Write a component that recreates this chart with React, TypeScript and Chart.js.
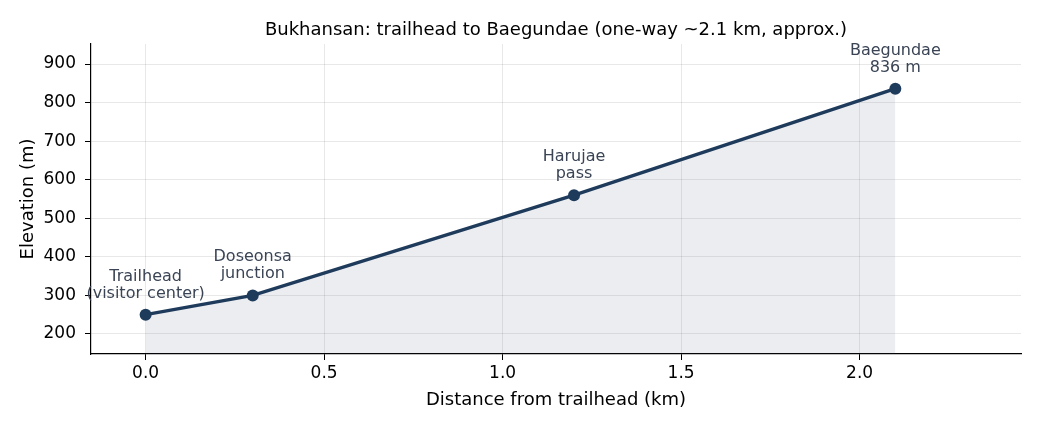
import React, { useEffect, useRef } from "react";
import { Chart, registerables } from "chart.js";

Chart.register(...registerables);

const distances = [0, 0.3, 1.2, 2.1];
const elevations = [250, 300, 560, 836];
const pointLabels = [
  ["Trailhead", "(visitor center)"],
  ["Doseonsa", "junction"],
  ["Harujae", "pass"],
  ["Baegundae", "836 m"],
];
const xTicks = [0, 0.5, 1.0, 1.5, 2.0];
const yTicks = [200, 300, 400, 500, 600, 700, 800, 900];
const titleText = "Bukhansan: trailhead to Baegundae (one-way ~2.1 km, approx.)";
const xTitle = "Distance from trailhead (km)";
const yTitle = "Elevation (m)";

const FONT = "'DejaVu Sans', sans-serif";
const LINE = "#1f3b5c";

const overlayPlugin = {
  id: "overlay",
  afterDatasetsDraw(chart: any) {
    const ctx = chart.ctx;
    const xs = chart.scales.x;
    const ys = chart.scales.y;
    const area = chart.chartArea;
    ctx.save();
    ctx.fillStyle = "#000";
    ctx.textAlign = "center";
    ctx.textBaseline = "alphabetic";
    ctx.font = `18px ${FONT}`;
    ctx.fillText(titleText, (area.left + area.right) / 2, 35);
    ctx.font = `18px ${FONT}`;
    ctx.fillText(xTitle, (area.left + area.right) / 2, 405);
    ctx.save();
    ctx.translate(33, (area.top + area.bottom) / 2);
    ctx.rotate(-Math.PI / 2);
    ctx.fillText(yTitle, 0, 0);
    ctx.restore();
    ctx.fillStyle = "#3a4455";
    ctx.font = `16px ${FONT}`;
    distances.forEach((d, i) => {
      const px = xs.getPixelForValue(d);
      const py = ys.getPixelForValue(elevations[i]);
      const lines = pointLabels[i];
      ctx.fillText(lines[0], px, py - 34);
      ctx.fillText(lines[1], px, py - 17);
    });
    ctx.restore();
  },
};

export default function App() {
  const ref = useRef<HTMLCanvasElement | null>(null);
  useEffect(() => {
    if (!ref.current) return;
    const gridColor = "rgba(0,0,0,0.09)";
    const chart = new Chart(ref.current, {
      type: "line",
      data: {
        datasets: [
          {
            data: distances.map((d, i) => ({ x: d, y: elevations[i] })),
            borderColor: LINE,
            backgroundColor: "rgba(31,59,92,0.09)",
            borderWidth: 3.4,
            pointRadius: 6,
            pointBackgroundColor: LINE,
            pointBorderColor: LINE,
            pointBorderWidth: 0,
            fill: "start",
            tension: 0,
          },
        ],
      },
      options: {
        responsive: false,
        animation: false,
        devicePixelRatio: 1,
        layout: { padding: { top: 44, right: 19, left: 0, bottom: 0 } },
        plugins: {
          legend: { display: false },
          title: { display: false },
          tooltip: { enabled: false },
        },
        scales: {
          x: {
            type: "linear",
            min: -0.153,
            max: 2.452,
            afterBuildTicks: (s: any) => {
              s.ticks = xTicks.map((v) => ({ value: v }));
            },
            afterFit: (s: any) => {
              s.height = 75;
            },
            ticks: {
              color: "#000",
              font: { family: FONT, size: 17 },
              padding: 3,
              maxRotation: 0,
              callback: (v: any) => Number(v).toFixed(1),
            },
            grid: { color: gridColor, tickColor: "#000", tickLength: 6 },
            border: { color: "#000", width: 1.2 },
          },
          y: {
            type: "linear",
            min: 148,
            max: 952,
            afterBuildTicks: (s: any) => {
              s.ticks = yTicks.map((v) => ({ value: v }));
            },
            afterFit: (s: any) => {
              s.width = 91;
            },
            ticks: {
              color: "#000",
              font: { family: FONT, size: 17 },
              padding: 9,
            },
            grid: { color: gridColor, tickColor: "#000", tickLength: 6 },
            border: { color: "#000", width: 1.2 },
          },
        },
      },
      plugins: [overlayPlugin],
    } as any);
    return () => chart.destroy();
  }, []);
  return (
    <div style={{ position: "fixed", left: 0, top: 0, width: 1040, height: 429, background: "#fff" }}>
      <canvas ref={ref} width={1040} height={429} />
    </div>
  );
}
